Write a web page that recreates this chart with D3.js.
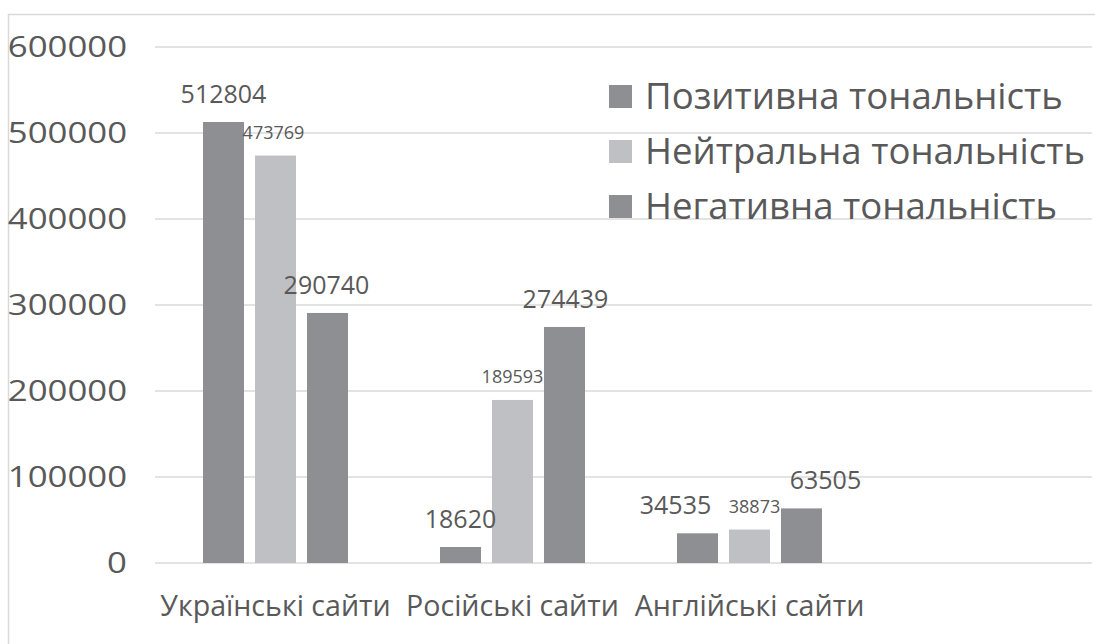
<!DOCTYPE html>
<html><head><meta charset="utf-8">
<script src="https://cdn.jsdelivr.net/npm/d3@7"></script>
<style>body{margin:0;background:#fff}svg{display:block}</style>
</head><body>
<svg id="chart" width="1095" height="644"></svg>
<script>
const categories = ["Українські сайти", "Російські сайти", "Англійські сайти"];
const seriesNames = ["Позитивна тональність", "Нейтральна тональність", "Негативна тональність"];
const positive = [512804, 18620, 34535];
const neutral  = [473769, 189593, 38873];
const negative = [290740, 274439, 63505];
const yTicks = [0, 100000, 200000, 300000, 400000, 500000, 600000];

const seriesValues = [positive, neutral, negative];
const colors = ["#8e8f93", "#bfc0c3", "#8e8f93"];
// manual label nudges (px) as in the reference, per series per category
const labelNudge = [[0, 0, -22], [-2, 0, 5], [-1, 1, 24]];
const labelSize = [25, 18, 25];
const labelGap = [19, 17, 19];

const FONT = "'Open Sans', 'Noto Sans', sans-serif";
const TEXT = "#595959";
const svg = d3.select("#chart");

svg.append("rect").attr("x", 8.5).attr("y", 14.5).attr("width", 1100).attr("height", 640)
  .attr("fill", "#fff").attr("stroke", "#d9d9d9").attr("stroke-width", 1.5);

const x0 = d3.scaleBand().domain(categories).range([157, 868]);
const x1 = d3.scaleBand().domain([0, 1, 2]).range([0, x0.bandwidth()])
  .paddingInner(0.2115).paddingOuter(0.885);
const y = d3.scaleLinear().domain([0, 600000]).range([563, 47]);

// gridlines
svg.append("g").selectAll("line").data(yTicks).join("line")
  .attr("x1", 155).attr("x2", 1092)
  .attr("y1", d => y(d)).attr("y2", d => y(d))
  .attr("stroke", "#dadada").attr("stroke-width", 1.5);

// y axis labels
const yAxis = svg.append("g").attr("transform", "translate(127,0)")
  .call(d3.axisLeft(y).tickValues(yTicks).tickSize(0).tickPadding(0).tickFormat(d => String(d)));
yAxis.select(".domain").remove();
yAxis.selectAll("text").attr("font-family", FONT).attr("font-size", 28.5)
  .attr("fill", TEXT).attr("transform", "scale(1.22,1)");

// bars
const groups = svg.append("g").selectAll("g").data(categories).join("g")
  .attr("transform", d => `translate(${x0(d)},0)`);
groups.selectAll("rect").data((c, ci) => seriesValues.map((s, si) => ({si, v: s[ci]})))
  .join("rect")
  .attr("x", d => x1(d.si)).attr("width", x1.bandwidth())
  .attr("y", d => y(d.v)).attr("height", d => y(0) - y(d.v))
  .attr("fill", d => colors[d.si]);

// data labels
groups.selectAll("text").data((c, ci) => seriesValues.map((s, si) => ({si, ci, v: s[ci]})))
  .join("text")
  .attr("x", d => x1(d.si) + x1.bandwidth() / 2 + labelNudge[d.si][d.ci])
  .attr("y", d => y(d.v) - labelGap[d.si])
  .attr("text-anchor", "middle")
  .attr("font-family", FONT).attr("font-size", d => labelSize[d.si])
  .attr("fill", TEXT)
  .text(d => d.v);

// category labels
svg.append("g").selectAll("text").data(categories).join("text")
  .attr("x", d => x0(d) + x0.bandwidth() / 2).attr("y", 616)
  .attr("text-anchor", "middle")
  .attr("font-family", FONT).attr("font-size", 28.6).attr("fill", TEXT)
  .text(d => d);

// legend
const leg = svg.append("g").selectAll("g").data(seriesNames).join("g")
  .attr("transform", (d, i) => `translate(609,${109 + i * 55})`);
leg.append("rect").attr("x", 0).attr("y", -24).attr("width", 23).attr("height", 23)
  .attr("fill", (d, i) => colors[i]);
leg.append("text").attr("x", 36).attr("y", 0)
  .attr("font-family", FONT).attr("font-size", 36.6).attr("fill", TEXT)
  .text(d => d);
</script>
</body></html>
